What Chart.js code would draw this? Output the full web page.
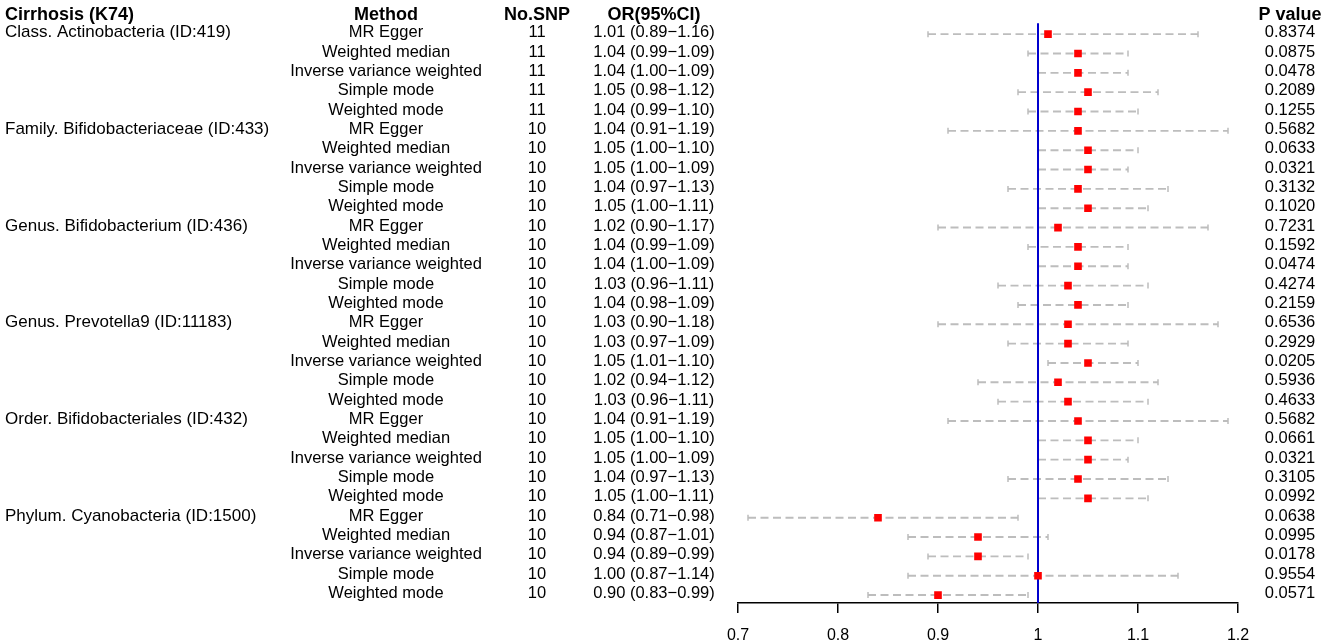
<!DOCTYPE html>
<html>
<head>
<meta charset="utf-8">
<script src="https://cdn.jsdelivr.net/npm/chart.js@4.4.1/dist/chart.umd.min.js"></script>
<style>
  html, body { margin: 0; padding: 0; background: #ffffff; overflow: hidden; }
  #wrap { position: relative; width: 1325px; height: 644px; }
</style>
</head>
<body>
<div id="wrap"><canvas id="c" width="1325" height="644"></canvas></div>
<script>
// ---------------- data ----------------
const outcome = "Cirrhosis (K74)";
const exposures = [
  "Class. Actinobacteria (ID:419)",
  "Family. Bifidobacteriaceae (ID:433)",
  "Genus. Bifidobacterium (ID:436)",
  "Genus. Prevotella9 (ID:11183)",
  "Order. Bifidobacteriales (ID:432)",
  "Phylum. Cyanobacteria (ID:1500)"
];
const methods = ["MR Egger", "Weighted median", "Inverse variance weighted", "Simple mode", "Weighted mode"];
const nSNP = [
  11, 11, 11, 11, 11,
  10, 10, 10, 10, 10,
  10, 10, 10, 10, 10,
  10, 10, 10, 10, 10,
  10, 10, 10, 10, 10,
  10, 10, 10, 10, 10
];
const orValues = [
  1.01, 1.04, 1.04, 1.05, 1.04,
  1.04, 1.05, 1.05, 1.04, 1.05,
  1.02, 1.04, 1.04, 1.03, 1.04,
  1.03, 1.03, 1.05, 1.02, 1.03,
  1.04, 1.05, 1.05, 1.04, 1.05,
  0.84, 0.94, 0.94, 1.00, 0.90
];
const lowerCI = [
  0.89, 0.99, 1.00, 0.98, 0.99,
  0.91, 1.00, 1.00, 0.97, 1.00,
  0.90, 0.99, 1.00, 0.96, 0.98,
  0.90, 0.97, 1.01, 0.94, 0.96,
  0.91, 1.00, 1.00, 0.97, 1.00,
  0.71, 0.87, 0.89, 0.87, 0.83
];
const upperCI = [
  1.16, 1.09, 1.09, 1.12, 1.10,
  1.19, 1.10, 1.09, 1.13, 1.11,
  1.17, 1.09, 1.09, 1.11, 1.09,
  1.18, 1.09, 1.10, 1.12, 1.11,
  1.19, 1.10, 1.09, 1.13, 1.11,
  0.98, 1.01, 0.99, 1.14, 0.99
];
const pValues = [
  "0.8374", "0.0875", "0.0478", "0.2089", "0.1255",
  "0.5682", "0.0633", "0.0321", "0.3132", "0.1020",
  "0.7231", "0.1592", "0.0474", "0.4274", "0.2159",
  "0.6536", "0.2929", "0.0205", "0.5936", "0.4633",
  "0.5682", "0.0661", "0.0321", "0.3105", "0.0992",
  "0.0638", "0.0995", "0.0178", "0.9554", "0.0571"
];
const headers = ["Method", "No.SNP", "OR(95%CI)", "P value"];
const xTicks = [0.7, 0.8, 0.9, 1.0, 1.1, 1.2];
const nullValue = 1;

// ---------------- build ----------------
const nRows = orValues.length;
const datasets = [];
datasets.push({
  type: 'scatter',
  label: 'OR',
  order: 0,
  data: orValues.map((v, i) => ({ x: v, y: i })),
  pointStyle: 'rect',
  pointRadius: 5.4,
  pointHoverRadius: 5.4,
  pointBackgroundColor: '#ff0000',
  pointBorderWidth: 0,
  pointBorderColor: 'rgba(0,0,0,0)'
});
datasets.push({
  type: 'line',
  label: 'null',
  order: 1,
  data: [{ x: nullValue, y: -0.56 }, { x: nullValue, y: 29.41 }],
  borderColor: '#0000cd',
  borderWidth: 2,
  pointRadius: 0,
  fill: false
});
for (let i = 0; i < nRows; i++) {
  datasets.push({
    type: 'line',
    label: 'ci' + i,
    order: 2,
    data: [{ x: lowerCI[i], y: i }, { x: upperCI[i], y: i }],
    borderColor: '#bdbdbd',
    borderWidth: 1.9,
    borderDash: [8, 4.5],
    pointStyle: 'line',
    pointRotation: 90,
    pointRadius: 3,
    pointHoverRadius: 3,
    pointBorderColor: '#bdbdbd',
    pointBorderWidth: 1.5,
    fill: false
  });
}

const tablePlugin = {
  id: 'table',
  afterDraw(chart) {
    const ctx = chart.ctx;
    const ys = chart.scales.y;
    ctx.save();
    ctx.fillStyle = '#000000';
    ctx.textBaseline = 'middle';
    const hy = ys.getPixelForValue(-1);
    ctx.font = 'bold 18px "Liberation Sans", Arial, sans-serif';
    ctx.textAlign = 'left';
    ctx.fillText(outcome, 5, hy);
    ctx.textAlign = 'center';
    ctx.fillText(headers[0], 386, hy);
    ctx.fillText(headers[1], 537, hy);
    ctx.fillText(headers[2], 654, hy);
    ctx.fillText(headers[3], 1290, hy);
    const bodyFont = '16.5px "Liberation Sans", Arial, sans-serif';
    const firstFont = '17px "Liberation Sans", Arial, sans-serif';
    for (let i = 0; i < nRows; i++) {
      const y = ys.getPixelForValue(i) - 1.5;
      if (i % methods.length === 0) {
        ctx.font = firstFont;
        ctx.textAlign = 'left';
        ctx.fillText(exposures[Math.floor(i / methods.length)], 5, y);
      }
      ctx.font = bodyFont;
      ctx.textAlign = 'center';
      ctx.fillText(methods[i % methods.length], 386, y);
      ctx.fillText(String(nSNP[i]), 537, y);
      ctx.fillText(orValues[i].toFixed(2) + ' (' + lowerCI[i].toFixed(2) + '\u2212' + upperCI[i].toFixed(2) + ')', 654, y);
      ctx.fillText(pValues[i], 1290, y);
    }
    ctx.restore();
  }
};

new Chart(document.getElementById('c'), {
  data: { datasets },
  options: {
    responsive: false,
    animation: false,
    events: [],
    layout: { padding: { left: 738, right: 87, top: 0, bottom: 0 } },
    plugins: { legend: { display: false }, tooltip: { enabled: false } },
    scales: {
      x: {
        type: 'linear',
        min: 0.7,
        max: 1.2,
        afterBuildTicks(scale) { scale.ticks = xTicks.map(v => ({ value: v })); },
        afterFit(scale) { scale.height = 41; },
        grid: { drawOnChartArea: false, drawTicks: true, tickLength: 10, color: '#000000', lineWidth: 1.5 },
        border: { display: true, color: '#000000', width: 1.5 },
        ticks: {
          padding: 13,
          color: '#000000',
          font: { family: '"Liberation Sans", Arial, sans-serif', size: 16 },
          callback: (v) => String(Math.round(v * 10) / 10)
        }
      },
      y: {
        type: 'linear',
        display: false,
        reverse: true,
        min: -1.486,
        max: 29.41
      }
    }
  },
  plugins: [tablePlugin]
});
</script>
</body>
</html>
